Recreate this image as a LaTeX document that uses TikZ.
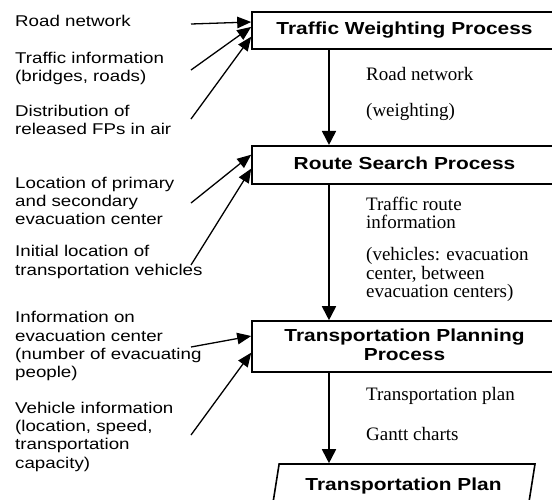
\documentclass[tikz,border=0pt]{standalone}
\usepackage{fontspec}
\usetikzlibrary{arrows.meta,shapes.geometric}
\newfontfamily\lsans[FakeStretch=1.2]{Liberation Sans}
\newfontfamily\lserif{Liberation Serif}
\begin{document}
\begin{tikzpicture}[x=1pt,y=-1pt,
  intext/.style={anchor=base west, inner sep=0, align=left, font=\lsans\fontsize{15.6}{18.3}\selectfont},
  outtext/.style={anchor=base west, inner sep=0, align=left, font=\lserif\fontsize{19}{18.4}\selectfont},
  procbox/.style={draw, line width=1.6pt, rectangle, minimum width=305pt, inner sep=0, align=center, font=\lsans\bfseries\fontsize{17.4}{19}\selectfont},
  planbox/.style={draw, line width=1.6pt, trapezium, trapezium left angle=66, trapezium right angle=114, trapezium stretches body, minimum width=263pt, minimum height=45pt, inner sep=0, text height=12pt, text depth=4pt, font=\lsans\bfseries\fontsize{17.4}{19}\selectfont},
  inarrow/.style={line width=1.3pt, -{Triangle[length=14pt,width=11.5pt]}},
  flowarrow/.style={line width=1.8pt, -{Triangle[length=14pt,width=14pt]}}
]
\useasboundingbox (0,0) rectangle (552,499);
\clip (0,0) rectangle (552,499);

% process boxes
\node[procbox, minimum height=36.5pt, text height=12pt, text depth=4pt] (tw) at (404.5,30.5) {Traffic Weighting Process};
\node[procbox, minimum height=38.5pt, text height=12pt, text depth=4pt] (rs) at (404.5,165) {Route Search Process};
\node[procbox, minimum height=51pt, text height=31pt, text depth=4pt] (tp) at (404.5,346.5) {Transportation Planning\\Process};
\node[planbox] (plan) at (403.5,486.5) {Transportation Plan};

% main flow
\coordinate (ax) at (329,0);
\draw[flowarrow] (tw.south -| ax) -- (rs.north -| ax);
\draw[flowarrow] (rs.south -| ax) -- (tp.north -| ax);
\draw[flowarrow] (tp.south -| ax) -- (plan.north -| ax);

% input texts (anchored at the baseline of their last line)
\node[intext] (l1) at (15,26.5) {Road network};
\node[intext] (l2) at (15,81.6) {Traffic information\\(bridges, roads)};
\node[intext] (l3) at (15,134.6) {Distribution of\\released FPs in air};
\node[intext] (l4) at (15,224.6) {Location of primary\\and secondary\\evacuation center};
\node[intext] (l5) at (15,275) {Initial location of\\transportation vehicles};
\node[intext] (l6) at (15,377.6) {Information on\\evacuation center\\(number of evacuating\\people)};
\node[intext] (l7) at (15,468.2) {Vehicle information\\(location, speed,\\transportation\\capacity)};

% input arrow starts
\coordinate (s1) at (191,24);
\coordinate (s2) at (191,70);
\coordinate (s3) at (191,119);
\coordinate (s4) at (191,203);
\coordinate (s5) at (191,265);
\coordinate (s6) at (191,347);
\coordinate (s7) at (191,435);

\draw[inarrow] (s1) -- (tw.west |- 0,22);
\draw[inarrow] (s2) -- (tw.west |- 0,26.9);
\draw[inarrow] (s3) -- (tw.west |- 0,36.7);
\draw[inarrow] (s4) -- (rs.west |- 0,154.7);
\draw[inarrow] (s5) -- (rs.west |- 0,168.6);
\draw[inarrow] (s6) -- (tp.west |- 0,336);
\draw[inarrow] (s7) -- (tp.west |- 0,352.7);

% output texts
\node[outtext] (o1) at (366,80) {Road network};
\node[outtext] (o2) at (366,116.7) {(weighting)};
\node[outtext] (o3) at (366,228.4) {Traffic route\\information};
\node[outtext] (o4) at (366,297.5) {(vehicles: evacuation\\center, between\\evacuation centers)};
\node[outtext] (o5) at (366,400.7) {Transportation plan};
\node[outtext] (o6) at (366,440) {Gantt charts};
\end{tikzpicture}
\end{document}
